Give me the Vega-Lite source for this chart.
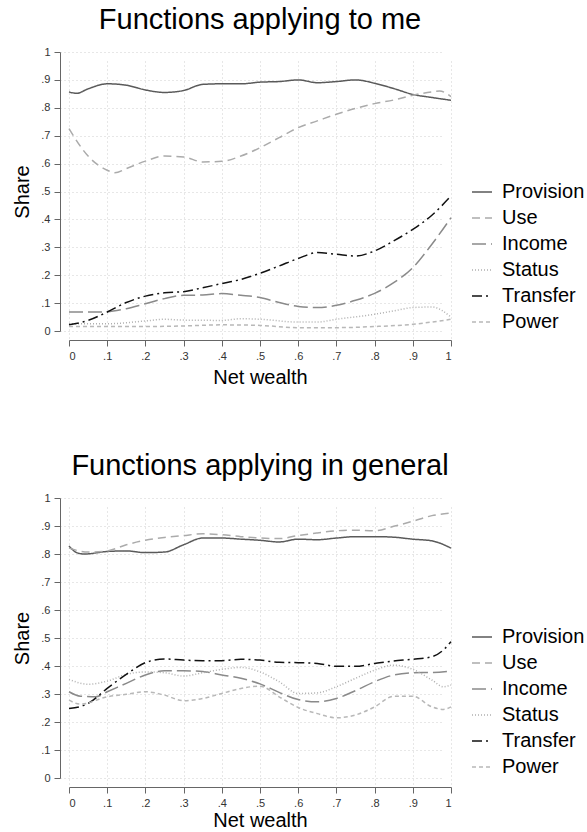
{
  "$schema": "https://vega.github.io/schema/vega-lite/v6.json",
  "background": "white",
  "padding": {"left": 12, "top": 6, "right": 0, "bottom": 0},
  "spacing": 65,
  "config": {
    "font": "Liberation Sans",
    "view": {"stroke": null},
    "title": {"fontSize": 29, "fontWeight": "normal", "color": "#000", "offset": 11},
    "axis": {
      "domainColor": "#666", "tickColor": "#666", "labelColor": "#333", "labelFontSize": 11,
      "titleFontSize": 20, "titleFontWeight": "normal", "titleColor": "#000",
      "gridColor": "#cfcfcf", "gridDash": [1, 3], "gridWidth": 1, "offset": 9, "tickSize": 6
    },
    "legend": {"labelFontSize": 20, "labelColor": "#000", "symbolType": "stroke", "symbolSize": 400, "symbolStrokeWidth": 1.5, "rowPadding": 5, "labelOffset": 9}
  },
  "datasets": {
    "me": [
      {"s":"Provision","x":0,"y":0.857},{"s":"Provision","x":0.02,"y":0.852},{"s":"Provision","x":0.05,"y":0.868},{"s":"Provision","x":0.1,"y":0.886},{"s":"Provision","x":0.15,"y":0.881},{"s":"Provision","x":0.2,"y":0.864},{"s":"Provision","x":0.25,"y":0.855},{"s":"Provision","x":0.3,"y":0.862},{"s":"Provision","x":0.35,"y":0.884},{"s":"Provision","x":0.4,"y":0.886},{"s":"Provision","x":0.45,"y":0.886},{"s":"Provision","x":0.5,"y":0.892},{"s":"Provision","x":0.55,"y":0.894},{"s":"Provision","x":0.6,"y":0.9},{"s":"Provision","x":0.65,"y":0.89},{"s":"Provision","x":0.7,"y":0.894},{"s":"Provision","x":0.75,"y":0.9},{"s":"Provision","x":0.8,"y":0.888},{"s":"Provision","x":0.85,"y":0.869},{"s":"Provision","x":0.9,"y":0.848},{"s":"Provision","x":0.95,"y":0.837},{"s":"Provision","x":1,"y":0.827},
      {"s":"Use","x":0,"y":0.725},{"s":"Use","x":0.05,"y":0.627},{"s":"Use","x":0.1,"y":0.576},{"s":"Use","x":0.12,"y":0.567},{"s":"Use","x":0.15,"y":0.582},{"s":"Use","x":0.2,"y":0.609},{"s":"Use","x":0.25,"y":0.627},{"s":"Use","x":0.3,"y":0.624},{"s":"Use","x":0.35,"y":0.606},{"s":"Use","x":0.4,"y":0.608},{"s":"Use","x":0.45,"y":0.627},{"s":"Use","x":0.5,"y":0.657},{"s":"Use","x":0.55,"y":0.693},{"s":"Use","x":0.6,"y":0.729},{"s":"Use","x":0.65,"y":0.753},{"s":"Use","x":0.7,"y":0.777},{"s":"Use","x":0.75,"y":0.798},{"s":"Use","x":0.8,"y":0.815},{"s":"Use","x":0.85,"y":0.828},{"s":"Use","x":0.9,"y":0.845},{"s":"Use","x":0.95,"y":0.857},{"s":"Use","x":0.97,"y":0.86},{"s":"Use","x":1,"y":0.84},
      {"s":"Income","x":0,"y":0.068},{"s":"Income","x":0.05,"y":0.068},{"s":"Income","x":0.1,"y":0.069},{"s":"Income","x":0.15,"y":0.08},{"s":"Income","x":0.2,"y":0.098},{"s":"Income","x":0.25,"y":0.116},{"s":"Income","x":0.3,"y":0.128},{"s":"Income","x":0.35,"y":0.129},{"s":"Income","x":0.4,"y":0.134},{"s":"Income","x":0.45,"y":0.128},{"s":"Income","x":0.5,"y":0.12},{"s":"Income","x":0.55,"y":0.102},{"s":"Income","x":0.6,"y":0.088},{"s":"Income","x":0.65,"y":0.084},{"s":"Income","x":0.7,"y":0.092},{"s":"Income","x":0.75,"y":0.11},{"s":"Income","x":0.8,"y":0.135},{"s":"Income","x":0.85,"y":0.173},{"s":"Income","x":0.9,"y":0.227},{"s":"Income","x":0.95,"y":0.311},{"s":"Income","x":1,"y":0.406},
      {"s":"Status","x":0,"y":0.026},{"s":"Status","x":0.1,"y":0.026},{"s":"Status","x":0.2,"y":0.036},{"s":"Status","x":0.25,"y":0.042},{"s":"Status","x":0.3,"y":0.039},{"s":"Status","x":0.4,"y":0.038},{"s":"Status","x":0.45,"y":0.044},{"s":"Status","x":0.5,"y":0.042},{"s":"Status","x":0.6,"y":0.032},{"s":"Status","x":0.65,"y":0.032},{"s":"Status","x":0.7,"y":0.042},{"s":"Status","x":0.8,"y":0.06},{"s":"Status","x":0.85,"y":0.072},{"s":"Status","x":0.9,"y":0.084},{"s":"Status","x":0.95,"y":0.086},{"s":"Status","x":1,"y":0.05},
      {"s":"Transfer","x":0,"y":0.022},{"s":"Transfer","x":0.05,"y":0.038},{"s":"Transfer","x":0.1,"y":0.068},{"s":"Transfer","x":0.15,"y":0.102},{"s":"Transfer","x":0.2,"y":0.125},{"s":"Transfer","x":0.25,"y":0.137},{"s":"Transfer","x":0.3,"y":0.141},{"s":"Transfer","x":0.35,"y":0.155},{"s":"Transfer","x":0.4,"y":0.17},{"s":"Transfer","x":0.45,"y":0.185},{"s":"Transfer","x":0.5,"y":0.207},{"s":"Transfer","x":0.55,"y":0.233},{"s":"Transfer","x":0.6,"y":0.26},{"s":"Transfer","x":0.65,"y":0.281},{"s":"Transfer","x":0.7,"y":0.275},{"s":"Transfer","x":0.75,"y":0.269},{"s":"Transfer","x":0.8,"y":0.287},{"s":"Transfer","x":0.85,"y":0.323},{"s":"Transfer","x":0.9,"y":0.364},{"s":"Transfer","x":0.95,"y":0.415},{"s":"Transfer","x":1,"y":0.484},
      {"s":"Power","x":0,"y":0.016},{"s":"Power","x":0.1,"y":0.016},{"s":"Power","x":0.2,"y":0.016},{"s":"Power","x":0.3,"y":0.018},{"s":"Power","x":0.4,"y":0.022},{"s":"Power","x":0.5,"y":0.02},{"s":"Power","x":0.6,"y":0.012},{"s":"Power","x":0.7,"y":0.012},{"s":"Power","x":0.8,"y":0.016},{"s":"Power","x":0.9,"y":0.024},{"s":"Power","x":1,"y":0.042}
    ],
    "gen": [
      {"s":"Provision","x":0,"y":0.829},{"s":"Provision","x":0.02,"y":0.805},{"s":"Provision","x":0.04,"y":0.8},{"s":"Provision","x":0.1,"y":0.809},{"s":"Provision","x":0.15,"y":0.811},{"s":"Provision","x":0.2,"y":0.805},{"s":"Provision","x":0.25,"y":0.807},{"s":"Provision","x":0.3,"y":0.833},{"s":"Provision","x":0.35,"y":0.857},{"s":"Provision","x":0.4,"y":0.857},{"s":"Provision","x":0.45,"y":0.853},{"s":"Provision","x":0.5,"y":0.849},{"s":"Provision","x":0.55,"y":0.843},{"s":"Provision","x":0.6,"y":0.853},{"s":"Provision","x":0.65,"y":0.851},{"s":"Provision","x":0.7,"y":0.857},{"s":"Provision","x":0.75,"y":0.862},{"s":"Provision","x":0.8,"y":0.862},{"s":"Provision","x":0.85,"y":0.86},{"s":"Provision","x":0.9,"y":0.853},{"s":"Provision","x":0.95,"y":0.847},{"s":"Provision","x":1,"y":0.821},
      {"s":"Use","x":0,"y":0.821},{"s":"Use","x":0.05,"y":0.807},{"s":"Use","x":0.1,"y":0.811},{"s":"Use","x":0.15,"y":0.833},{"s":"Use","x":0.2,"y":0.849},{"s":"Use","x":0.25,"y":0.859},{"s":"Use","x":0.3,"y":0.866},{"s":"Use","x":0.35,"y":0.872},{"s":"Use","x":0.4,"y":0.869},{"s":"Use","x":0.45,"y":0.862},{"s":"Use","x":0.5,"y":0.857},{"s":"Use","x":0.55,"y":0.855},{"s":"Use","x":0.6,"y":0.866},{"s":"Use","x":0.65,"y":0.875},{"s":"Use","x":0.7,"y":0.883},{"s":"Use","x":0.75,"y":0.885},{"s":"Use","x":0.8,"y":0.883},{"s":"Use","x":0.85,"y":0.899},{"s":"Use","x":0.9,"y":0.917},{"s":"Use","x":0.95,"y":0.937},{"s":"Use","x":1,"y":0.946},
      {"s":"Income","x":0,"y":0.308},{"s":"Income","x":0.03,"y":0.292},{"s":"Income","x":0.07,"y":0.29},{"s":"Income","x":0.1,"y":0.308},{"s":"Income","x":0.15,"y":0.338},{"s":"Income","x":0.2,"y":0.368},{"s":"Income","x":0.25,"y":0.383},{"s":"Income","x":0.3,"y":0.383},{"s":"Income","x":0.35,"y":0.38},{"s":"Income","x":0.4,"y":0.368},{"s":"Income","x":0.45,"y":0.356},{"s":"Income","x":0.5,"y":0.336},{"s":"Income","x":0.55,"y":0.306},{"s":"Income","x":0.6,"y":0.28},{"s":"Income","x":0.65,"y":0.272},{"s":"Income","x":0.7,"y":0.284},{"s":"Income","x":0.75,"y":0.312},{"s":"Income","x":0.8,"y":0.344},{"s":"Income","x":0.85,"y":0.368},{"s":"Income","x":0.9,"y":0.376},{"s":"Income","x":0.95,"y":0.377},{"s":"Income","x":1,"y":0.382},
      {"s":"Status","x":0,"y":0.352},{"s":"Status","x":0.05,"y":0.335},{"s":"Status","x":0.1,"y":0.346},{"s":"Status","x":0.15,"y":0.37},{"s":"Status","x":0.2,"y":0.379},{"s":"Status","x":0.25,"y":0.376},{"s":"Status","x":0.3,"y":0.364},{"s":"Status","x":0.35,"y":0.376},{"s":"Status","x":0.4,"y":0.388},{"s":"Status","x":0.45,"y":0.395},{"s":"Status","x":0.5,"y":0.379},{"s":"Status","x":0.55,"y":0.344},{"s":"Status","x":0.6,"y":0.302},{"s":"Status","x":0.65,"y":0.304},{"s":"Status","x":0.7,"y":0.326},{"s":"Status","x":0.75,"y":0.356},{"s":"Status","x":0.8,"y":0.385},{"s":"Status","x":0.85,"y":0.403},{"s":"Status","x":0.9,"y":0.388},{"s":"Status","x":0.95,"y":0.35},{"s":"Status","x":0.98,"y":0.326},{"s":"Status","x":1,"y":0.332},
      {"s":"Transfer","x":0,"y":0.248},{"s":"Transfer","x":0.05,"y":0.266},{"s":"Transfer","x":0.1,"y":0.32},{"s":"Transfer","x":0.15,"y":0.37},{"s":"Transfer","x":0.2,"y":0.412},{"s":"Transfer","x":0.25,"y":0.425},{"s":"Transfer","x":0.3,"y":0.421},{"s":"Transfer","x":0.35,"y":0.419},{"s":"Transfer","x":0.4,"y":0.419},{"s":"Transfer","x":0.45,"y":0.424},{"s":"Transfer","x":0.5,"y":0.421},{"s":"Transfer","x":0.55,"y":0.413},{"s":"Transfer","x":0.6,"y":0.412},{"s":"Transfer","x":0.65,"y":0.409},{"s":"Transfer","x":0.7,"y":0.399},{"s":"Transfer","x":0.75,"y":0.399},{"s":"Transfer","x":0.8,"y":0.409},{"s":"Transfer","x":0.85,"y":0.418},{"s":"Transfer","x":0.9,"y":0.424},{"s":"Transfer","x":0.95,"y":0.433},{"s":"Transfer","x":0.98,"y":0.457},{"s":"Transfer","x":1,"y":0.487},
      {"s":"Power","x":0,"y":0.278},{"s":"Power","x":0.03,"y":0.264},{"s":"Power","x":0.1,"y":0.29},{"s":"Power","x":0.15,"y":0.299},{"s":"Power","x":0.2,"y":0.308},{"s":"Power","x":0.25,"y":0.296},{"s":"Power","x":0.3,"y":0.276},{"s":"Power","x":0.35,"y":0.284},{"s":"Power","x":0.4,"y":0.302},{"s":"Power","x":0.45,"y":0.32},{"s":"Power","x":0.5,"y":0.328},{"s":"Power","x":0.55,"y":0.29},{"s":"Power","x":0.6,"y":0.252},{"s":"Power","x":0.65,"y":0.23},{"s":"Power","x":0.7,"y":0.215},{"s":"Power","x":0.75,"y":0.225},{"s":"Power","x":0.8,"y":0.254},{"s":"Power","x":0.85,"y":0.292},{"s":"Power","x":0.9,"y":0.292},{"s":"Power","x":0.95,"y":0.254},{"s":"Power","x":0.98,"y":0.245},{"s":"Power","x":1,"y":0.254}
    ]
  },
  "resolve": {"legend": {"color": "independent", "strokeDash": "independent"}},
  "vconcat": [
    {
      "title": "Functions applying to me",
      "width": 382,
      "height": 279,
      "data": {"name": "me"},
      "mark": {"type": "line", "strokeWidth": 1.5, "interpolate": "monotone"},
      "encoding": {
        "x": {"field": "x", "type": "quantitative", "title": "Net wealth", "scale": {"domain": [0, 1], "nice": false},
              "axis": {"values": [0,0.1,0.2,0.3,0.4,0.5,0.6,0.7,0.8,0.9,1], "labelExpr": "datum.value == 0 ? '0' : datum.value == 1 ? '1' : replace(format(datum.value, '.1f'), '0.', '.')", "labelPadding": 4, "titlePadding": 6}},
        "y": {"field": "y", "type": "quantitative", "title": "Share", "scale": {"domain": [0, 1], "nice": false},
              "axis": {"values": [0,0.1,0.2,0.3,0.4,0.5,0.6,0.7,0.8,0.9,1], "labelExpr": "datum.value == 0 ? '0' : datum.value == 1 ? '1' : replace(format(datum.value, '.1f'), '0.', '.')", "labelPadding": 4, "titlePadding": 8}},
        "color": {"field": "s", "type": "nominal", "title": null,
                  "scale": {"domain": ["Provision","Use","Income","Status","Transfer","Power"], "range": ["#5a5a5a","#ababab","#8a8a8a","#b0b0b0","#111111","#b8b8b8"]},
                  "legend": {"orient": "none", "legendX": 402, "legendY": 129}},
        "strokeDash": {"field": "s", "type": "nominal", "title": null,
                  "scale": {"domain": ["Provision","Use","Income","Status","Transfer","Power"], "range": [[1,0],[8,5],[14,5],[1,2],[10,4,2,4],[4,3]]},
                  "legend": {"orient": "none", "legendX": 402, "legendY": 129}}
      }
    },
    {
      "title": "Functions applying in general",
      "width": 382,
      "height": 280,
      "data": {"name": "gen"},
      "mark": {"type": "line", "strokeWidth": 1.5, "interpolate": "monotone"},
      "encoding": {
        "x": {"field": "x", "type": "quantitative", "title": "Net wealth", "scale": {"domain": [0, 1], "nice": false},
              "axis": {"values": [0,0.1,0.2,0.3,0.4,0.5,0.6,0.7,0.8,0.9,1], "labelExpr": "datum.value == 0 ? '0' : datum.value == 1 ? '1' : replace(format(datum.value, '.1f'), '0.', '.')", "labelPadding": 4, "titlePadding": 2}},
        "y": {"field": "y", "type": "quantitative", "title": "Share", "scale": {"domain": [0, 1], "nice": false},
              "axis": {"values": [0,0.1,0.2,0.3,0.4,0.5,0.6,0.7,0.8,0.9,1], "labelExpr": "datum.value == 0 ? '0' : datum.value == 1 ? '1' : replace(format(datum.value, '.1f'), '0.', '.')", "labelPadding": 4, "titlePadding": 8}},
        "color": {"field": "s", "type": "nominal", "title": null,
                  "scale": {"domain": ["Provision","Use","Income","Status","Transfer","Power"], "range": ["#5a5a5a","#ababab","#8a8a8a","#b0b0b0","#111111","#b8b8b8"]},
                  "legend": {"orient": "none", "legendX": 402, "legendY": 128}},
        "strokeDash": {"field": "s", "type": "nominal", "title": null,
                  "scale": {"domain": ["Provision","Use","Income","Status","Transfer","Power"], "range": [[1,0],[8,5],[14,5],[1,2],[10,4,2,4],[4,3]]},
                  "legend": {"orient": "none", "legendX": 402, "legendY": 128}}
      }
    }
  ]
}
